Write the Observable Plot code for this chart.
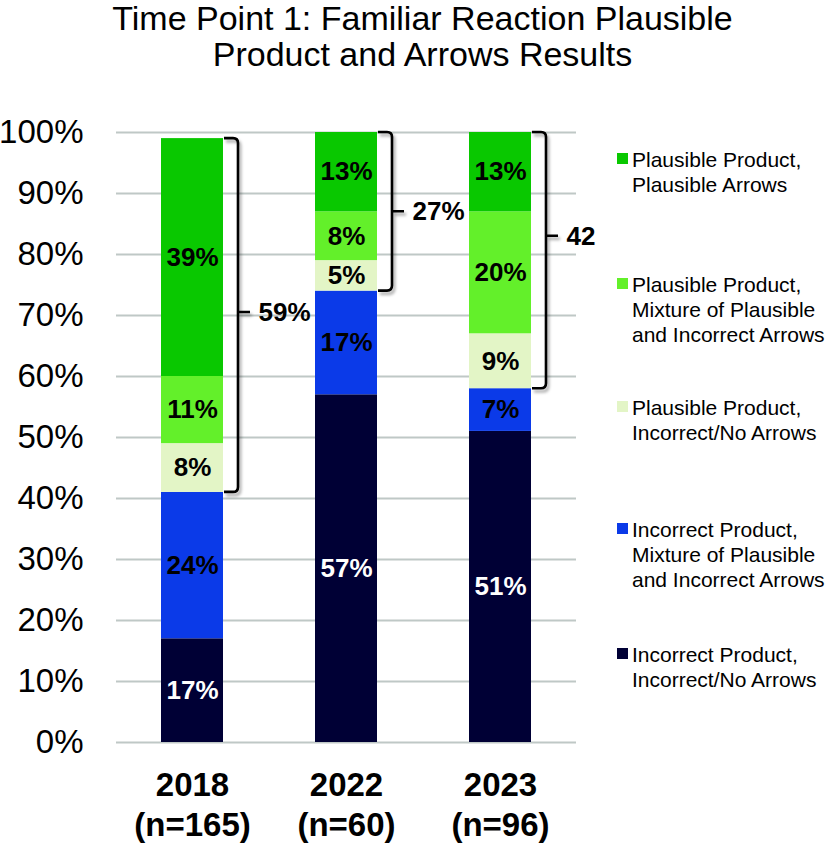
<!DOCTYPE html>
<html>
<head>
<meta charset="utf-8">
<script src="https://cdn.jsdelivr.net/npm/d3@7"></script>
<script src="https://cdn.jsdelivr.net/npm/@observablehq/plot@0.6"></script>
<style>
  body { margin: 0; background: #fff; font-family: "Liberation Sans", Arial, sans-serif; }
  #wrap { position: relative; width: 825px; height: 843px; overflow: hidden; background: #fff; }
  #title { position: absolute; left: 20px; top: 0px; width: 805px; text-align: center;
           font-size: 34px; line-height: 36px; color: #000; }
  #chart { position: absolute; left: 0; top: 80px; }
  #legend { position: absolute; left: 0; top: 0; }
  .entry { position: absolute; left: 617px; font-size: 21px; line-height: 25px; white-space: nowrap; color: #000; }
  .swatch { position: absolute; left: 0; top: 6px; width: 11px; height: 11px; }
  .lab { position: absolute; left: 15px; top: 0; }
  g[aria-label="x-axis tick label"] text { font-weight: bold; }
</style>
</head>
<body>
<div id="wrap">
  <div id="title">Time Point 1: Familiar Reaction Plausible<br>Product and Arrows Results</div>
  <div id="chart"></div>
  <div id="legend"></div>
</div>
<script>
// Cohorts and their sample sizes
const years = ["2018", "2022", "2023"];
const sampleSizes = [165, 60, 96];

// Response categories, stacked from the bottom of each bar to the top
const categories = [
  "Incorrect Product, Incorrect/No Arrows",
  "Incorrect Product, Mixture of Plausible and Incorrect Arrows",
  "Plausible Product, Incorrect/No Arrows",
  "Plausible Product, Mixture of Plausible and Incorrect Arrows",
  "Plausible Product, Plausible Arrows"
];
const colors = ["#000035", "#0b3ae8", "#e3f5c6", "#63f02a", "#09c800"];

// Legend text, one array of lines per category (same order as categories)
const legendLines = [
  ["Incorrect Product,", "Incorrect/No Arrows"],
  ["Incorrect Product,", "Mixture of Plausible", "and Incorrect Arrows"],
  ["Plausible Product,", "Incorrect/No Arrows"],
  ["Plausible Product,", "Mixture of Plausible", "and Incorrect Arrows"],
  ["Plausible Product,", "Plausible Arrows"]
];

// Percentages per cohort (2018, 2022, 2023)
const pctIncorrectNone       = [17, 57, 51];
const pctIncorrectMixture    = [24, 17, 7];
const pctPlausibleNone       = [8, 5, 9];
const pctPlausibleMixture    = [11, 8, 20];
const pctPlausiblePlausible  = [39, 13, 13];

// Bracket annotations grouping the "plausible product" segments
const braceLabels = ["59%", "27%", "42"];
const braceTick = [70.5, 87, 83];

const yTicks = [0, 10, 20, 30, 40, 50, 60, 70, 80, 90, 100];

const series = [pctIncorrectNone, pctIncorrectMixture, pctPlausibleNone, pctPlausibleMixture, pctPlausiblePlausible];
const rows = [];
years.forEach((year, i) => {
  categories.forEach((category, c) => rows.push({year, category, value: series[c][i]}));
});

const braces = years.map((year, i) => ({
  year,
  from: pctIncorrectNone[i] + pctIncorrectMixture[i],
  to: series.reduce((s, arr) => s + arr[i], 0),
  tick: braceTick[i],
  label: braceLabels[i]
}));

// Square brackets with rounded corners drawn to the right of each bar
function bracketMark(index, scales) {
  const x = scales.x, y = scales.y;
  const bw = x.bandwidth ? x.bandwidth() : scales.scales.x.bandwidth;
  const g = d3.create("svg:g").attr("fill", "none").attr("stroke", "#000")
    .attr("stroke-width", 2.6).attr("stroke-linecap", "butt")
    .style("filter", "drop-shadow(2px 3px 1.5px rgba(0,0,0,0.35))");
  for (const b of braces) {
    const r = x(b.year) + bw;
    const vx = r + 15, yt = y(b.to), yb = y(b.from), ym = y(b.tick), rad = 5;
    const p = d3.path();
    p.moveTo(r + 1, yt);
    p.lineTo(vx - rad, yt);
    p.quadraticCurveTo(vx, yt, vx, yt + rad);
    p.lineTo(vx, yb - rad);
    p.quadraticCurveTo(vx, yb, vx - rad, yb);
    p.lineTo(r + 1, yb);
    p.moveTo(vx, ym);
    p.lineTo(vx + 12, ym);
    g.append("path").attr("d", p.toString());
  }
  return g.node();
}

const chart = Plot.plot({
  width: 825,
  height: 763,
  marginLeft: 116,
  marginRight: 249,
  marginTop: 52,
  marginBottom: 101,
  style: { fontFamily: "'Liberation Sans', Arial, sans-serif", color: "#000", background: "#fff" },
  x: { domain: years, paddingInner: 0.6, paddingOuter: 0.29 },
  y: { domain: [0, 100] },
  color: { domain: categories, range: colors },
  marks: [
    Plot.gridY(yTicks, { stroke: "#bfc8c6", strokeOpacity: 1, strokeWidth: 2 }),
    Plot.axisY(yTicks, { tickFormat: d => d + "%", fontSize: 33, tickSize: 0, tickPadding: 33, label: null }),
    Plot.axisX({
      tickFormat: d => `${d}\n(n=${sampleSizes[years.indexOf(d)]})`,
      fontSize: 33, fontWeight: "bold", lineHeight: 1.24,
      tickSize: 0, tickPadding: 24, label: null
    }),
    Plot.barY(rows, Plot.stackY({ x: "year", y: "value", fill: "category", order: categories })),
    Plot.text(rows, Plot.stackY({
      x: "year", y: "value", z: "category", order: categories,
      text: d => d.category === categories[0] ? null : d.value + "%",
      fill: "#000", fontSize: 26, fontWeight: "bold"
    })),
    Plot.text(rows, Plot.stackY({
      x: "year", y: "value", z: "category", order: categories,
      text: d => d.category === categories[0] ? d.value + "%" : null,
      fill: "#fff", fontSize: 26, fontWeight: "bold"
    })),
    bracketMark,
    Plot.text(braces, {
      x: "year", y: "tick", text: "label", dx: 66, textAnchor: "start",
      fontSize: 26, fontWeight: "bold", fill: "#000"
    })
  ]
});
document.getElementById("chart").appendChild(chart);

// Legend, top entry = top of the stack
const legendTops = [642, 517, 395, 272, 147];
const legend = document.getElementById("legend");
categories.forEach((cat, c) => {
  const e = document.createElement("div");
  e.className = "entry";
  e.style.top = legendTops[c] + "px";
  const sw = document.createElement("div");
  sw.className = "swatch";
  sw.style.background = colors[c];
  const lab = document.createElement("div");
  lab.className = "lab";
  lab.innerHTML = legendLines[c].join("<br>");
  e.appendChild(sw);
  e.appendChild(lab);
  legend.appendChild(e);
});
</script>
</body>
</html>
